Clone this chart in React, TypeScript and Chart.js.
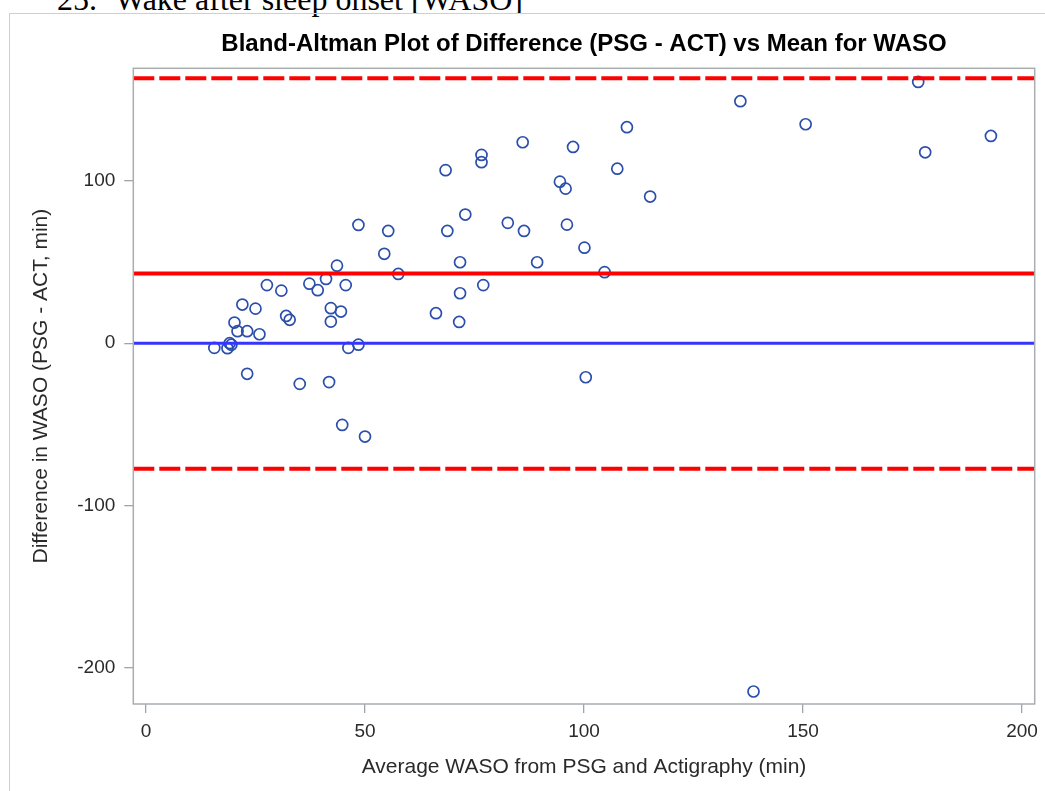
import React, { useEffect, useRef } from "react";
import { Chart, registerables } from "chart.js";

Chart.register(...registerables);

// Average WASO from PSG and actigraphy (min)
const AVG_WASO = [
  15.6, 18.6, 19.1, 19.5, 20.2, 20.9, 22.0, 23.1, 23.1, 25.0,
  25.9, 27.6, 30.9, 32.0, 32.8, 35.1, 37.3, 39.2, 41.1, 41.8,
  42.2, 42.2, 43.6, 44.5, 44.8, 45.6, 46.2, 48.5, 50.0, 48.5,
  54.4, 55.3, 57.6, 66.2, 68.4, 68.8, 71.7, 71.7, 71.5, 72.9,
  76.6, 76.6, 77.0, 82.6, 86.0, 86.3, 89.3, 94.5, 95.8, 96.1,
  97.5, 100.1, 100.4, 104.7, 107.6, 109.8, 115.1, 135.7, 138.7, 150.6,
  176.3, 177.9, 192.9,
];
// Difference PSG - ACT (min)
const DIFF_WASO = [
  -2.9, -3.1, 0.0, -0.9, 12.7, 7.4, 23.8, 7.4, -18.9, 21.3,
  5.5, 35.8, 32.4, 16.8, 14.4, -25.1, 36.7, 32.7, 39.6, -24.0,
  13.3, 21.6, 47.8, 19.5, -50.4, 35.8, -2.9, -0.9, -57.6, 72.9,
  55.1, 69.2, 42.7, 18.5, 106.7, 69.2, 49.9, 30.8, 13.1, 79.3,
  116.1, 111.6, 35.8, 74.2, 123.9, 69.2, 49.9, 99.6, 95.3, 73.1,
  121.0, 58.9, -21.0, 43.8, 107.6, 133.2, 90.4, 149.2, -214.8, 135.0,
  161.1, 117.7, 127.8,
];

const MEAN_DIFF = 42.9;
const UPPER_LOA = 163.4;
const LOWER_LOA = -77.5;
const ZERO_DIFF = 0;

const X_TICKS = [0, 50, 100, 150, 200];
const Y_TICKS = [-200, -100, 0, 100];
const X_MIN = -2.9;
const X_MAX = 202.9;
const Y_MIN = -222.5;
const Y_MAX = 169.5;

const TITLE = "Bland-Altman Plot of Difference (PSG - ACT) vs Mean for WASO";
const X_TITLE = "Average WASO from PSG and Actigraphy (min)";
const Y_TITLE = "Difference in WASO (PSG - ACT, min)";
const HEADING_NUM = "25.";
const HEADING_TEXT = "Wake after sleep onset [WASO]";

const SANS = "'Liberation Sans', Arial, sans-serif";

function hLine(y: number) {
  return [
    { x: X_MIN, y },
    { x: X_MAX, y },
  ];
}

const framePlugin = {
  id: "frame",
  afterDraw(chart: any) {
    const { ctx, chartArea } = chart;
    ctx.save();
    ctx.strokeStyle = "#A9ADB1";
    ctx.lineWidth = 1.5;
    ctx.strokeRect(
      chartArea.left,
      chartArea.top,
      chartArea.right - chartArea.left,
      chartArea.bottom - chartArea.top
    );
    ctx.restore();
  },
};

export default function App() {
  const canvasRef = useRef<HTMLCanvasElement | null>(null);

  useEffect(() => {
    if (!canvasRef.current) return;
    const points = AVG_WASO.map((x, i) => ({ x, y: DIFF_WASO[i] }));
    const lineBase = {
      type: "line" as const,
      showLine: true,
      pointRadius: 0,
      pointHoverRadius: 0,
      fill: false,
      order: 0,
    };
    const chart = new Chart(canvasRef.current, {
      type: "scatter",
      data: {
        datasets: [
          {
            ...lineBase,
            label: "Upper LoA",
            data: hLine(UPPER_LOA),
            borderColor: "#FF0000",
            borderWidth: 4,
            borderDash: [21, 5],
          },
          {
            ...lineBase,
            label: "Mean",
            data: hLine(MEAN_DIFF),
            borderColor: "#FF0000",
            borderWidth: 4,
          },
          {
            ...lineBase,
            label: "Lower LoA",
            data: hLine(LOWER_LOA),
            borderColor: "#FF0000",
            borderWidth: 4,
            borderDash: [21, 5],
          },
          {
            ...lineBase,
            label: "Zero",
            data: hLine(ZERO_DIFF),
            borderColor: "#3535FF",
            borderWidth: 3,
          },
          {
            type: "scatter",
            label: "WASO",
            data: points,
            pointStyle: "circle",
            pointRadius: 5.5,
            pointBorderWidth: 1.7,
            pointBorderColor: "#2B4FAA",
            pointBackgroundColor: "rgba(255,255,255,0)",
            borderColor: "#2B4FAA",
            backgroundColor: "rgba(255,255,255,0)",
            order: 1,
          } as any,
        ],
      },
      options: {
        animation: false,
        responsive: false,
        maintainAspectRatio: false,
        events: [],
        layout: { padding: { left: 0, right: 7.7, top: 0, bottom: 0 } },
        plugins: {
          legend: { display: false },
          tooltip: { enabled: false },
          title: {
            display: true,
            text: TITLE,
            fullSize: false,
            color: "#000000",
            font: { family: SANS, size: 24, weight: "bold" },
            padding: { top: 30, bottom: 9.5 },
          },
        },
        scales: {
          x: {
            type: "linear",
            min: X_MIN,
            max: X_MAX,
            afterBuildTicks: (s: any) => {
              s.ticks = X_TICKS.map((v) => ({ value: v }));
            },
            afterFit: (s: any) => {
              s.height = 87;
            },
            border: { display: false },
            grid: {
              drawOnChartArea: false,
              drawTicks: true,
              tickLength: 9,
              color: "#A0A4A8",
              lineWidth: 1.3,
            },
            ticks: {
              color: "#2A2A2A",
              font: { family: SANS, size: 19 },
              padding: 7,
              maxRotation: 0,
              autoSkip: false,
            },
            title: {
              display: true,
              text: X_TITLE,
              color: "#2A2A2A",
              font: { family: SANS, size: 21 },
              padding: { top: 0, bottom: 11.4 },
            },
          },
          y: {
            type: "linear",
            min: Y_MIN,
            max: Y_MAX,
            afterBuildTicks: (s: any) => {
              s.ticks = Y_TICKS.map((v) => ({ value: v }));
            },
            afterFit: (s: any) => {
              s.width = 133.3;
            },
            border: { display: false },
            grid: {
              drawOnChartArea: false,
              drawTicks: true,
              tickLength: 9,
              color: "#A0A4A8",
              lineWidth: 1.3,
            },
            ticks: {
              color: "#2A2A2A",
              font: { family: SANS, size: 19 },
              padding: 9,
              autoSkip: false,
            },
            title: {
              display: true,
              text: Y_TITLE,
              color: "#2A2A2A",
              font: { family: SANS, size: 21 },
              padding: { top: 28.4, bottom: 0 },
            },
          },
        },
      },
      plugins: [framePlugin],
    } as any);
    return () => chart.destroy();
  }, []);

  return (
    <div
      style={{
        position: "fixed",
        left: 0,
        top: 0,
        width: 1045,
        height: 791,
        overflow: "hidden",
        background: "#ffffff",
      }}
    >
      <div
        style={{
          position: "absolute",
          left: 57,
          top: -16.8,
          fontFamily: "'Liberation Serif', 'Times New Roman', serif",
          fontSize: 32,
          lineHeight: "32px",
          whiteSpace: "nowrap",
          color: "#000",
        }}
      >
        {HEADING_NUM}
      </div>
      <div
        style={{
          position: "absolute",
          left: 115,
          top: -16.8,
          fontFamily: "'Liberation Serif', 'Times New Roman', serif",
          fontSize: 32,
          lineHeight: "32px",
          whiteSpace: "nowrap",
          color: "#000",
        }}
      >
        {HEADING_TEXT}
      </div>
      <div
        style={{
          position: "absolute",
          left: 9,
          top: 13,
          width: 1100,
          height: 900,
          borderLeft: "1px solid #CFCFCF",
          borderTop: "1px solid #CFCFCF",
        }}
      />
      <canvas
        ref={canvasRef}
        width={1045}
        height={791}
        style={{ position: "absolute", left: 0, top: 0, width: 1045, height: 791 }}
      />
    </div>
  );
}
